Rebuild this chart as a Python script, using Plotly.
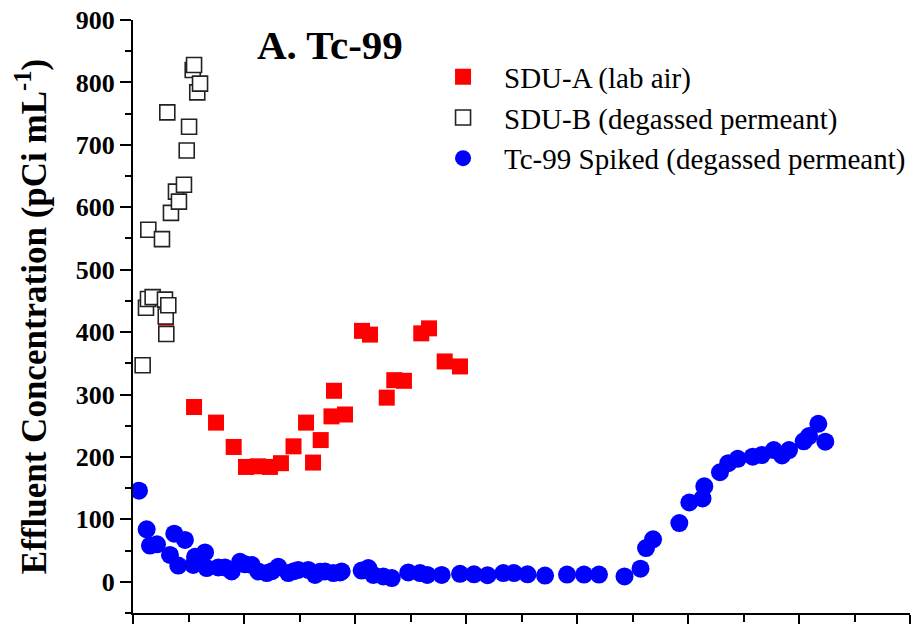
import plotly.graph_objects as go

# SDU-A (lab air)
sdu_a_x = [2.97, 5.50, 7.48, 9.07, 10.18, 11.26, 12.34, 13.33, 14.46, 15.59, 16.22, 16.91,
           17.88, 18.11, 19.10, 20.63, 21.35, 22.86, 23.54, 24.41, 25.97, 26.67, 28.08, 29.46]
sdu_a_y = [423, 280, 255, 216, 184, 185, 184, 190, 217, 255, 191, 227,
           265, 306, 268, 402, 396, 295, 323, 322, 398, 406, 353, 345]

# SDU-B (degassed permeant)
sdu_b_x = [0.87, 1.17, 1.35, 1.38, 1.77, 2.61, 2.88, 2.95, 3.00, 3.09, 3.18, 3.42,
           3.87, 4.14, 4.59, 4.84, 5.05, 5.38, 5.50, 5.79, 6.04]
sdu_b_y = [347, 439, 453, 564, 456, 549, 452, 425, 397, 752, 443, 591,
           625, 609, 636, 691, 729, 820, 828, 784, 798]

# Tc-99 Spiked (degassed permeant)
tc_x = [0.54, 1.23, 1.53, 2.16, 3.33, 3.72, 4.08, 4.68, 5.43, 5.59, 6.49, 6.64,
        7.68, 8.29, 8.89, 9.64, 10.09, 10.69, 11.29, 12.05, 12.52, 13.09, 13.99, 14.50,
        14.89, 15.79, 16.40, 16.85, 17.30, 18.05, 18.65, 18.80, 20.60, 21.20, 21.65, 22.55,
        23.31, 24.80, 25.86, 26.51, 27.81, 29.46, 30.72, 31.94, 33.36, 34.32, 35.54, 37.12,
        39.10, 40.63, 41.98, 44.28, 45.72, 46.22, 46.85, 49.22, 50.12, 51.31, 51.47, 52.88,
        53.63, 54.48, 55.83, 56.64, 57.73, 58.47, 59.10, 60.42, 60.90, 61.74, 62.37]
tc_y = [146, 84, 58, 60, 43, 77, 26, 67, 27, 40, 47, 22,
        23, 23, 16.5, 32, 28, 27, 16.5, 14, 17, 24, 14, 17,
        19, 19, 11, 16, 16.5, 14, 15, 16.5, 18, 22, 11, 8.5,
        6, 15, 14, 11, 11, 12.8, 12, 10.5, 14, 14, 12, 10,
        11.5, 11.5, 11.5, 8.5, 21, 54, 68, 94, 127, 133.5, 153, 175.5,
        190, 197, 200.5, 203, 211, 202.5, 211, 225, 233.5, 253, 224.5]

names = ["SDU-A (lab air)", "SDU-B (degassed permeant)", "Tc-99 Spiked (degassed permeant)"]

FONT = "Liberation Serif, Times New Roman, serif"

fig = go.Figure()
fig.add_trace(go.Scatter(
    x=sdu_a_x, y=sdu_a_y, mode="markers", name=names[0], legendgroup="a",
    marker=dict(symbol="square", size=16, color="#ff0000", line=dict(width=0))))
fig.add_trace(go.Scatter(
    x=sdu_b_x, y=sdu_b_y, mode="markers", name=names[1], legendgroup="b",
    marker=dict(symbol="square", size=15, color="white", line=dict(width=1.6, color="#222222"))))
fig.add_trace(go.Scatter(
    x=tc_x, y=tc_y, mode="markers", name=names[2], legendgroup="c",
    marker=dict(symbol="circle", size=18, color="#0000ff", line=dict(width=0))))

axis_common = dict(showgrid=False, zeroline=False, showline=True, linecolor="black",
                   linewidth=2, ticks="outside", tickcolor="black", tickwidth=2,
                   automargin=False)

fig.update_xaxes(range=[0, 70], dtick=10, tick0=0, ticklen=10, showticklabels=False,
                 minor=dict(dtick=5, ticks="outside", ticklen=7, tickcolor="black", tickwidth=2),
                 **axis_common)
fig.update_yaxes(range=[-50, 900], dtick=100, tick0=0, ticklen=11,
                 minor=dict(dtick=50, ticks="outside", ticklen=6, tickcolor="black", tickwidth=2),
                 tickfont=dict(family=FONT, size=26, color="black", weight="bold"),
                 title=dict(text="<b>Effluent Concentration (pCi mL<sup>-1</sup>)</b>",
                            font=dict(family=FONT, size=35, color="black"), standoff=19),
                 **axis_common)

fig.add_annotation(text="<b>A. Tc-99</b>", xref="paper", yref="paper", x=0.157, y=0.958,
                   xanchor="left", yanchor="middle", showarrow=False,
                   font=dict(family=FONT, size=41, color="black"))

fig.update_layout(
    width=915, height=624,
    margin=dict(l=133, r=5, t=20, b=11, autoexpand=False),
    paper_bgcolor="white", plot_bgcolor="white",
    font=dict(family=FONT, color="black"),
    showlegend=True,
    legend=dict(x=0.372, y=0.947, xanchor="left", yanchor="top", bgcolor="rgba(0,0,0,0)",
                font=dict(family=FONT, size=29, color="black"), tracegroupgap=0,
                itemwidth=72, itemsizing="trace"),
)

fig.write_html("out.html", config={"displayModeBar": False},
               post_script="document.body.style.margin='0';document.body.style.padding='0';")
